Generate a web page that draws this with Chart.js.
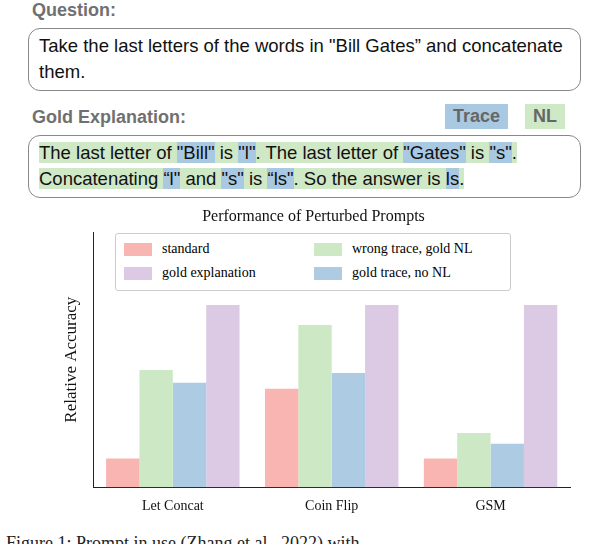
<!DOCTYPE html>
<html><head><meta charset="utf-8">
<script src="https://cdn.jsdelivr.net/npm/chart.js@4/dist/chart.umd.min.js"></script>
<style>
body{margin:0;width:598px;height:544px;overflow:hidden;background:#fff;font-family:"Liberation Sans",Arial,sans-serif;position:relative}
.hd{position:absolute;left:32px;font-weight:bold;color:#707070;font-size:18px}
.box{position:absolute;left:28px;width:527px;border:1.5px solid #888;border-radius:12px;padding:4px 14px 5px 10px;font-size:18.5px;line-height:26px;color:#111}
.t{background:#a9c8e2}.n{background:#cfe8c6}
.tag{position:absolute;top:104px;font-weight:bold;color:#666;font-size:18px;padding:2px 8px}
#wrap{position:absolute;left:0;top:205px;width:598px;height:313px}
#leg{position:absolute;left:115px;top:233px;width:394px;height:56px;border:1px solid #ccc;border-radius:3px;background:#fff;font-family:"Liberation Serif",serif;font-size:14px;z-index:2}
#leg div{position:absolute;display:flex;align-items:center}
#leg span{display:inline-block;width:28px;height:13px;margin-right:10px}
.cap{position:absolute;top:533px;left:6px;font-family:"Liberation Serif",serif;font-size:18px;color:#222}
</style></head><body>
<div class="hd" style="top:0px">Question:</div>
<div class="box" style="top:28px">Take the last letters of the words in "Bill Gates” and concatenate them.</div>
<div class="hd" style="top:107px">Gold Explanation:</div>
<div class="tag t" style="left:445px">Trace</div>
<div class="tag n" style="left:525px">NL</div>
<div class="box" style="top:135px"><span class="n">The last letter of </span> <span class="t">"Bill"</span><span class="n"> is </span><span class="t">"l"</span><span class="n">. The last letter of </span><span class="t">"Gates"</span><span class="n"> is </span><span class="t">"s"</span><span class="n">. Concatenating </span><span class="t">“l"</span><span class="n"> and </span><span class="t">"s"</span><span class="n"> is </span><span class="t">“ls"</span><span class="n">. So the answer is </span><span class="t">ls</span><span class="n">.</span></div>
<div id="leg">
<div style="left:8px;top:7px"><span style="background:#f9b5b1"></span>standard</div>
<div style="left:198px;top:7px"><span style="background:#cde8c5"></span>wrong trace, gold NL</div>
<div style="left:8px;top:31px"><span style="background:#dccae5"></span>gold explanation</div>
<div style="left:198px;top:31px"><span style="background:#adcbe3"></span>gold trace, no NL</div>
</div>
<div id="wrap"><canvas id="c"></canvas></div>
<div class="cap">Figure 1:  Prompt in use  (Zhang et al., 2022) with</div>
<script>
const categories = ['Let Concat','Coin Flip','GSM'];
const standard = [0.157, 0.54, 0.157];
const wrongTrace = [0.643, 0.89, 0.297];
const goldTrace = [0.573, 0.627, 0.238];
const goldExpl = [1, 1, 1];
const ds = (label,data,color)=>({label,data,backgroundColor:color,barPercentage:1,categoryPercentage:0.84});
new Chart(document.getElementById('c'),{
  type:'bar',
  data:{labels:categories,datasets:[
    ds('standard',standard,'#f9b5b1'),
    ds('wrong trace, gold NL',wrongTrace,'#cde8c5'),
    ds('gold trace, no NL',goldTrace,'#adcbe3'),
    ds('gold explanation',goldExpl,'#dccae5')
  ]},
  options:{responsive:true,maintainAspectRatio:false,animation:false,
    layout:{padding:{left:57,right:28,top:0,bottom:0}},
    plugins:{legend:{display:false},tooltip:{enabled:false},
      title:{display:true,text:'Performance of Perturbed Prompts',color:'#111',font:{family:'Liberation Serif',size:16,weight:'normal'},padding:{top:2,bottom:6}}},
    scales:{
      x:{grid:{display:false,drawTicks:true},border:{color:'#222'},ticks:{color:'#111',font:{family:'Liberation Serif',size:14}}},
      y:{min:0,max:1.4,grid:{display:false},border:{color:'#222'},ticks:{display:false},
        title:{display:true,text:'Relative Accuracy',color:'#111',font:{family:'Liberation Serif',size:17}}}
    }}
});
</script>
</body></html>
